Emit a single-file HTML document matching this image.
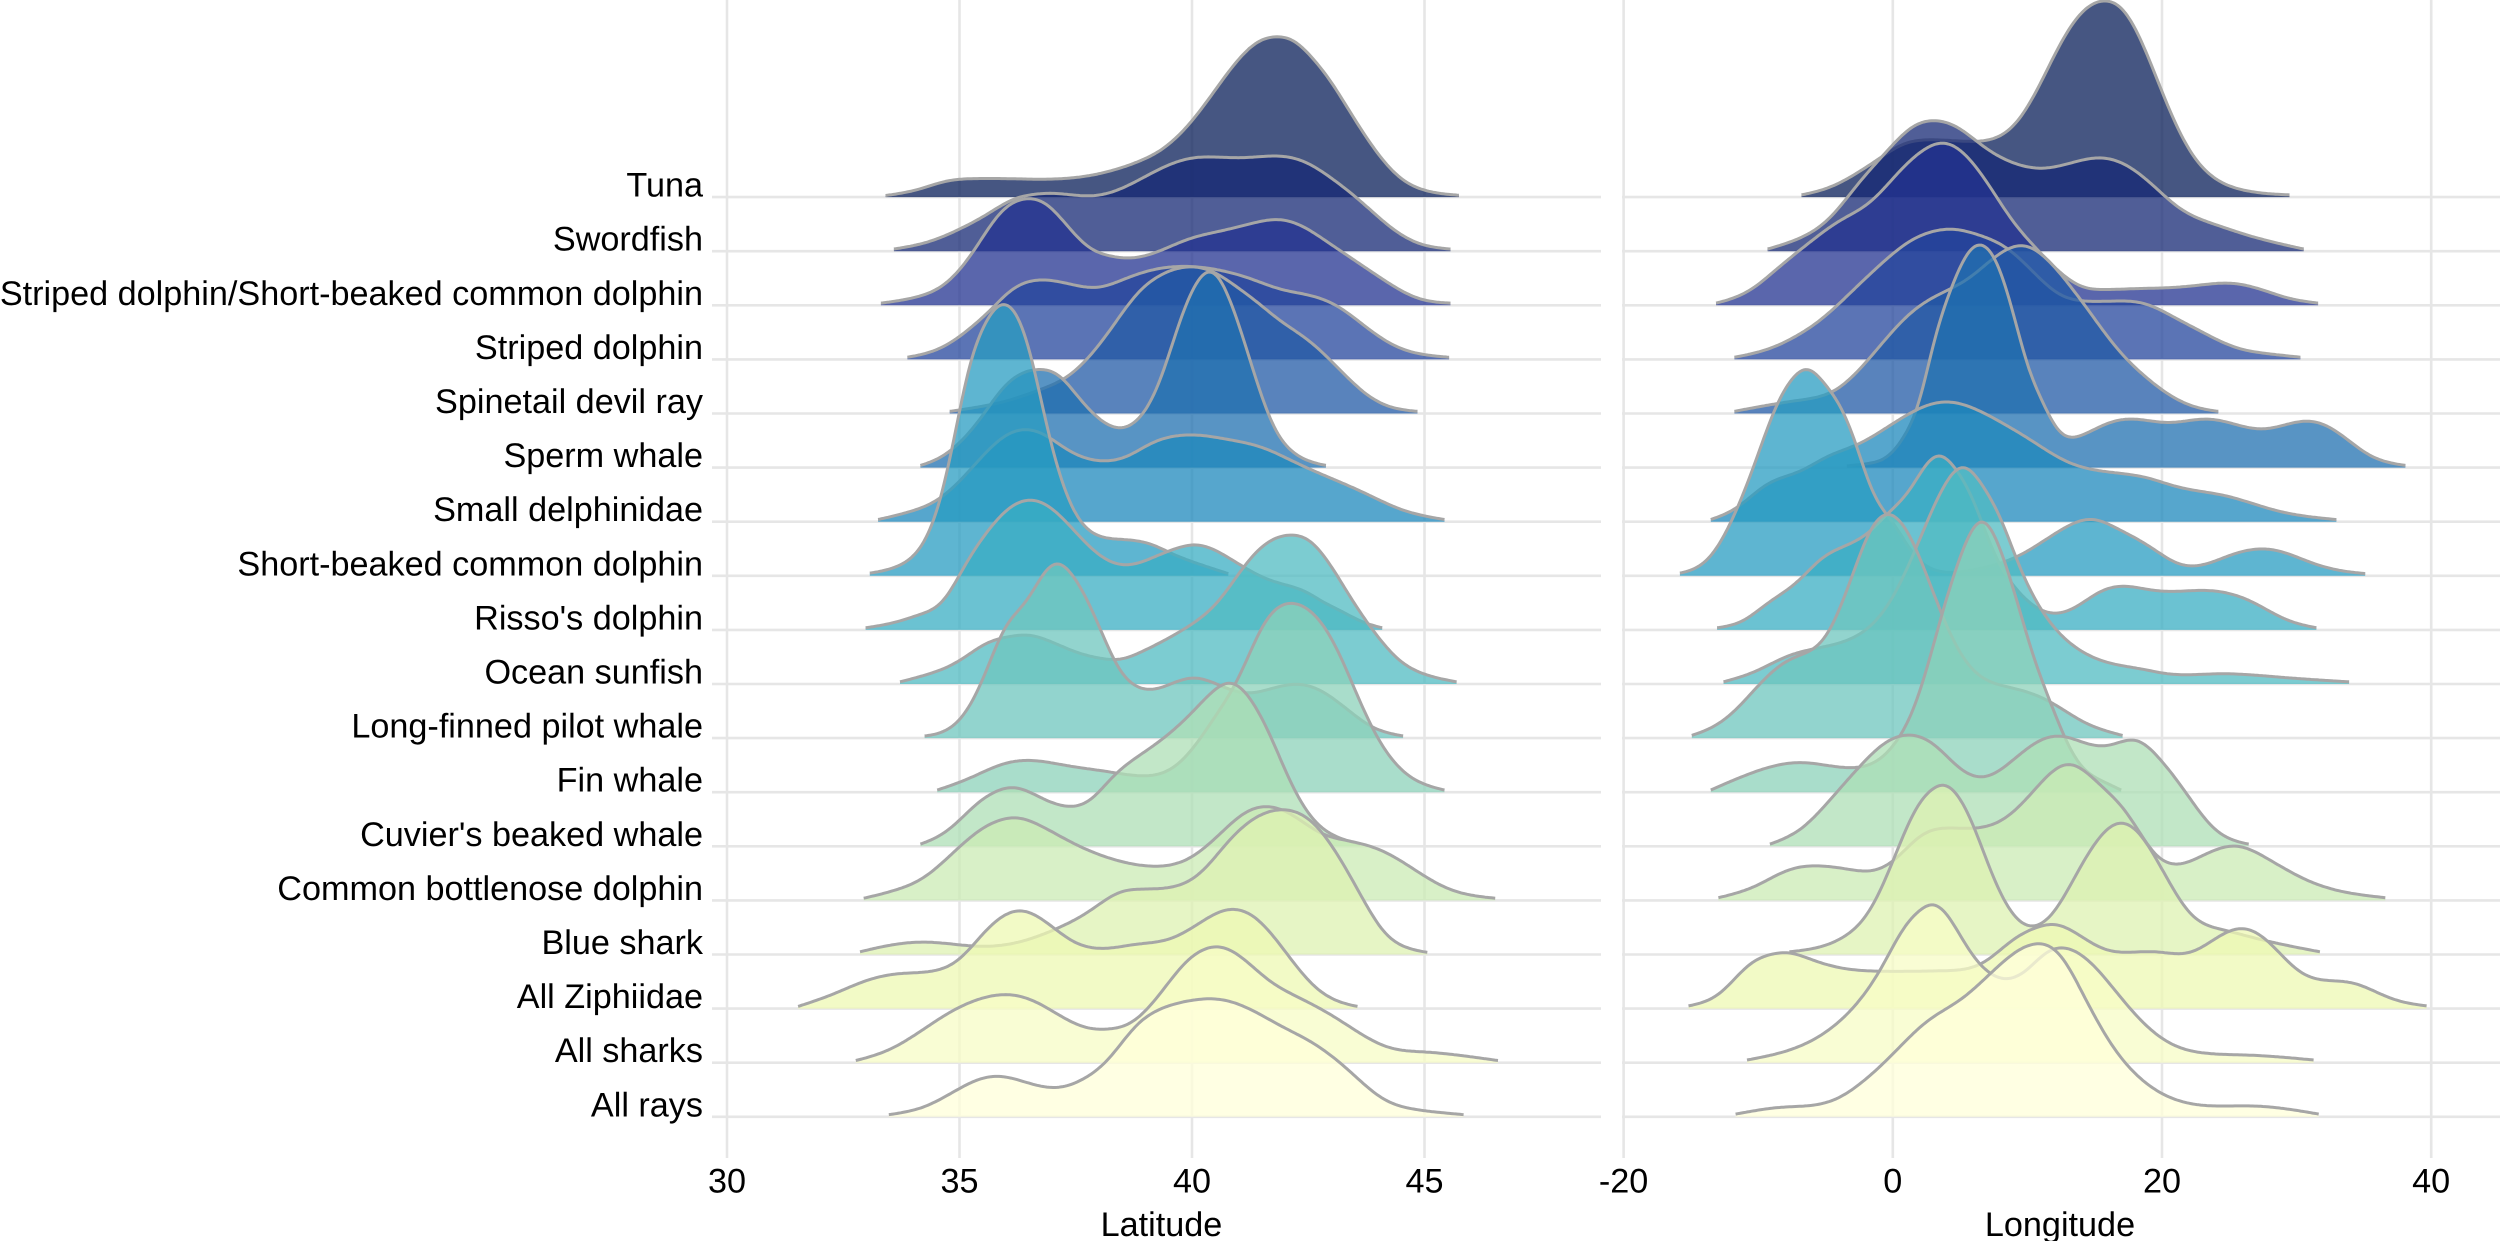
<!DOCTYPE html>
<html lang="en">
<head>
<meta charset="utf-8">
<title>Species density ridgelines by latitude and longitude</title>
<style>
html,body{margin:0;padding:0;background:#fff;width:2500px;height:1241px;overflow:hidden}
svg{display:block}
text{font-family:"Liberation Sans",Arial,sans-serif;fill:#000;text-rendering:geometricPrecision}
</style>
</head>
<body>
<svg id="chart" xmlns="http://www.w3.org/2000/svg" width="2500" height="1241" viewBox="0 0 2500 1241">
  <rect x="0" y="0" width="2500" height="1241" fill="#ffffff"/>
  <g id="grid"></g>
  <g id="latRidges"></g>
  <g id="lonRidges"></g>
  <g id="labels"></g>
  <text x="1161.5" y="1236" font-size="34.2" text-anchor="middle">Latitude</text>
  <text x="2060" y="1236" font-size="34.2" text-anchor="middle">Longitude</text>
</svg>
<script>
const species = ["Tuna","Swordfish","Striped dolphin/Short-beaked common dolphin","Striped dolphin","Spinetail devil ray","Sperm whale","Small delphinidae","Short-beaked common dolphin","Risso's dolphin","Ocean sunfish","Long-finned pilot whale","Fin whale","Cuvier's beaked whale","Common bottlenose dolphin","Blue shark","All Ziphiidae","All sharks","All rays"];
const latTicks = [30,35,40,45];
const lonTicks = [-20,0,20,40];

// Density curves: [coordinate in degrees, density height in row units]
const latTuna = [[33.41,.03],[34.11,.14],[34.73,.30],[35.22,.34],[36.09,.34],[37.20,.34],[37.94,.42],[38.80,.64],[39.42,.92],[40.04,1.45],[40.65,2.16],[41.15,2.69],[41.58,2.94],[41.85,2.97],[42.14,2.92],[42.51,2.65],[43.00,2.12],[43.49,1.45],[43.99,.81],[44.48,.35],[44.98,.13],[45.74,.035]];
const latSwordfish = [[33.59,.04],[34.36,.18],[34.98,.40],[35.59,.68],[36.15,.96],[36.58,1.05],[37.07,1.07],[37.81,1.02],[38.31,1.10],[38.93,1.35],[39.54,1.61],[40.04,1.73],[40.53,1.74],[41.15,1.73],[41.89,1.76],[42.38,1.67],[43.00,1.35],[43.62,.93],[44.23,.47],[44.85,.15],[45.56,.04]];
const latStripedShort = [[33.31,.04],[34.11,.16],[34.67,.38],[35.10,.76],[35.47,1.22],[35.84,1.68],[36.21,1.93],[36.48,1.98],[36.83,1.90],[37.32,1.47],[37.81,1.05],[38.19,.92],[38.62,.87],[39.17,.96],[39.91,1.22],[40.65,1.38],[41.27,1.51],[41.83,1.59],[42.26,1.51],[42.88,1.19],[43.62,.76],[44.23,.41],[44.85,.13],[45.56,.04]];
const latStriped = [[33.88,.04],[34.60,.21],[35.22,.57],[35.72,.96],[36.09,1.27],[36.52,1.45],[36.89,1.47],[37.44,1.38],[38.00,1.33],[38.56,1.49],[39.17,1.66],[39.91,1.72],[40.65,1.64],[41.27,1.49],[41.89,1.30],[42.51,1.19],[43.12,.99],[43.74,.60],[44.36,.25],[44.85,.11],[45.53,.04]];
const latSpinetail = [[34.79,.04],[35.47,.13],[36.09,.25],[36.70,.43],[37.32,.68],[37.81,1.07],[38.31,1.63],[38.80,2.20],[39.30,2.55],[39.85,2.71],[40.41,2.64],[40.90,2.38],[41.40,2.06],[41.89,1.72],[42.51,1.35],[43.12,.86],[43.74,.36],[44.23,.13],[44.85,.04]];
const latSperm = [[34.16,.04],[34.60,.19],[34.98,.44],[35.47,.93],[35.96,1.50],[36.40,1.77],[36.70,1.82],[37.14,1.71],[37.57,1.29],[38.06,.86],[38.47,.72],[38.86,.90],[39.30,1.57],[39.79,2.84],[40.16,3.52],[40.37,3.67],[40.59,3.52],[40.96,2.77],[41.40,1.57],[41.77,.72],[42.14,.30],[42.51,.12],[42.88,.04]];
const latSmallDelph = [[33.25,.04],[33.99,.20],[34.54,.41],[34.98,.73],[35.47,1.19],[35.96,1.58],[36.46,1.71],[36.83,1.61],[37.32,1.33],[37.81,1.15],[38.12,1.12],[38.56,1.19],[39.17,1.47],[39.67,1.59],[40.16,1.60],[40.78,1.52],[41.52,1.37],[42.26,1.08],[43.00,.80],[43.74,.52],[44.48,.23],[45.43,.04]];
const latShortBeaked = [[33.07,.05],[33.74,.20],[34.17,.52],[34.54,1.25],[34.91,2.65],[35.22,3.93],[35.53,4.64],[35.78,4.98],[35.99,5.05],[36.21,4.88],[36.52,4.14],[36.89,2.72],[37.26,1.59],[37.63,.96],[38.00,.73],[38.56,.67],[39.17,.57],[39.54,.42],[40.04,.25],[40.78,.04]];
const latRisso = [[32.98,.04],[33.62,.14],[34.17,.29],[34.67,.55],[35.10,1.17],[35.59,1.81],[36.09,2.27],[36.52,2.41],[36.95,2.27],[37.57,1.74],[38.19,1.28],[38.74,1.21],[39.30,1.39],[39.67,1.51],[40.04,1.58],[40.41,1.51],[41.02,1.21],[41.77,.89],[42.51,.68],[42.75,.55],[43.25,.33],[43.60,.17],[44.09,.04]];
const latSunfish = [[33.72,.04],[34.36,.19],[34.98,.42],[35.59,.76],[36.09,.88],[36.46,.91],[36.95,.79],[37.57,.57],[38.06,.47],[38.43,.45],[38.93,.60],[39.54,.87],[40.04,1.13],[40.59,1.55],[41.15,2.21],[41.64,2.63],[42.11,2.76],[42.51,2.67],[43.00,2.17],[43.43,1.57],[44.00,.87],[44.48,.42],[44.85,.23],[45.69,.04]];
const latPilot = [[34.25,.04],[34.85,.21],[35.22,.59],[35.59,1.27],[35.96,2.03],[36.46,2.55],[36.83,3.08],[37.10,3.26],[37.38,3.08],[37.75,2.55],[38.06,1.95],[38.43,1.27],[38.80,.95],[39.11,.89],[39.54,1.00],[40.04,1.12],[40.53,1.00],[41.15,.83],[41.77,.93],[42.26,1.00],[42.75,.89],[43.37,.51],[43.86,.21],[44.54,.04]];
const latFin = [[34.52,.04],[35.22,.26],[35.96,.53],[36.52,.59],[37.32,.49],[38.19,.38],[38.93,.30],[39.54,.42],[40.04,.83],[40.53,1.44],[40.96,2.04],[41.58,3.17],[42.20,3.50],[42.63,3.29],[43.12,2.65],[43.62,1.66],[44.11,.83],[44.73,.26],[45.43,.04]];
const latCuvier = [[34.16,.04],[34.73,.28],[35.35,.77],[35.84,1.04],[36.21,1.09],[36.70,.92],[37.38,.73],[37.81,.85],[38.31,1.30],[38.80,1.64],[39.42,2.02],[40.04,2.51],[40.53,2.93],[40.84,3.04],[41.15,2.85],[41.64,2.13],[42.14,1.15],[42.63,.47],[43.12,.17],[43.62,.04]];
const latBottlenose = [[32.94,.04],[33.62,.19],[34.23,.42],[34.85,.87],[35.47,1.32],[35.96,1.51],[36.27,1.53],[36.70,1.40],[37.44,1.06],[38.19,.79],[38.80,.66],[39.30,.63],[39.91,.76],[40.53,1.17],[41.15,1.63],[41.64,1.74],[42.14,1.59],[42.75,1.25],[43.37,1.10],[44.11,.91],[44.73,.60],[45.47,.23],[46.52,.04]];
const latBlueShark = [[32.86,.05],[33.49,.17],[34.30,.23],[34.98,.18],[35.59,.15],[36.33,.24],[37.07,.47],[37.81,.81],[38.43,1.15],[38.93,1.21],[39.54,1.24],[40.16,1.49],[40.78,2.09],[41.40,2.55],[42.01,2.68],[42.51,2.51],[43.00,2.02],[43.62,1.11],[44.11,.43],[44.60,.13],[45.06,.04]];
const latZiphiidae = [[31.53,.04],[32.26,.26],[33.00,.52],[33.74,.65],[34.48,.70],[34.98,.90],[35.47,1.35],[35.96,1.73],[36.40,1.81],[36.83,1.62],[37.44,1.24],[38.12,1.11],[38.80,1.19],[39.54,1.29],[40.16,1.58],[40.65,1.81],[40.96,1.84],[41.40,1.66],[42.01,1.05],[42.63,.41],[43.12,.14],[43.56,.04]];
const latAllSharks = [[32.77,.04],[33.49,.24],[34.23,.62],[34.85,.96],[35.47,1.19],[36.09,1.26],[36.58,1.15],[37.20,.85],[37.81,.63],[38.19,.62],[38.68,.73],[39.30,1.26],[39.91,1.90],[40.35,2.13],[40.59,2.15],[41.02,1.98],[41.64,1.53],[42.26,1.22],[43.00,.88],[43.62,.54],[44.23,.28],[44.98,.20],[45.72,.14],[46.58,.04]];
const latAllRays = [[33.48,.04],[34.23,.18],[34.85,.45],[35.47,.71],[35.90,.75],[36.46,.63],[37.14,.54],[37.69,.71],[38.19,1.05],[38.80,1.69],[39.42,2.03],[40.04,2.16],[40.53,2.18],[41.15,2.03],[41.89,1.69],[42.63,1.35],[43.37,.86],[44.11,.33],[44.85,.13],[45.84,.04]];

const lonTuna = [[-6.78,.04],[-4.69,.18],[-2.56,.46],[-.85,.74],[.85,.99],[2.56,1.06],[5.54,1.03],[7.25,1.06],[8.96,1.31],[10.66,1.95],[12.37,2.80],[14.07,3.43],[15.69,3.64],[17.27,3.43],[18.76,2.72],[20.47,1.66],[22.17,.81],[23.88,.35],[26.01,.13],[29.47,.04]];
const lonSwordfish = [[-9.30,.04],[-6.82,.25],[-4.69,.61],[-2.56,1.25],[-.43,1.85],[1.49,2.31],[3.07,2.42],[4.69,2.31],[6.82,1.92],[8.96,1.63],[11.09,1.53],[13.22,1.63],[15.35,1.73],[17.06,1.63],[19.19,1.25],[21.32,.79],[23.88,.50],[26.44,.29],[30.53,.04]];
const lonStripedShort = [[-13.13,.04],[-10.66,.27],[-8.53,.69],[-6.40,1.12],[-3.84,1.58],[-1.71,1.90],[.43,2.46],[2.13,2.85],[3.84,3.01],[5.54,2.75],[7.25,2.18],[8.96,1.54],[10.66,1.05],[12.37,.62],[14.07,.34],[15.78,.29],[18.34,.31],[20.90,.33],[23.03,.38],[25.16,.41],[27.29,.30],[29.42,.13],[31.60,.04]];
const lonStriped = [[-11.77,.04],[-9.38,.18],[-7.25,.42],[-5.12,.78],[-2.99,1.27],[-.85,1.77],[1.28,2.19],[2.99,2.37],[4.48,2.41],[6.40,2.30],[8.53,2.05],[10.66,1.56],[12.37,1.20],[14.07,1.08],[16.63,1.08],[18.76,1.03],[20.90,.78],[23.03,.50],[25.59,.21],[27.72,.11],[30.28,.04]];
const lonSpinetail = [[-11.77,.04],[-9.38,.15],[-6.82,.25],[-4.26,.43],[-2.56,.79],[-.85,1.28],[1.28,1.85],[3.41,2.20],[5.54,2.48],[7.68,2.91],[9.81,3.11],[11.09,2.94],[12.79,2.48],[14.50,1.92],[16.63,1.21],[18.76,.68],[20.90,.29],[22.60,.11],[24.18,.04]];
const lonSperm = [[-3.41,.03],[-1.94,.07],[-.21,.23],[1.28,.76],[1.90,1.13],[2.99,2.28],[4.26,3.27],[5.54,3.98],[6.61,4.15],[7.68,3.84],[8.96,2.85],[10.23,1.71],[11.06,1.25],[12.18,.70],[13.66,.56],[15.40,.76],[17.37,.90],[20.47,.83],[23.45,.90],[25.59,.79],[27.51,.71],[29.42,.81],[31.13,.86],[32.84,.69],[35.39,.23],[38.08,.04]];
const lonSmallDelph = [[-13.52,.04],[-11.51,.27],[-9.38,.69],[-6.90,.93],[-4.91,1.20],[-2.68,1.42],[-.70,1.70],[1.77,2.07],[3.99,2.22],[5.98,2.10],[7.96,1.85],[10.44,1.48],[12.92,1.11],[14.90,.96],[19.10,.80],[20.90,.66],[24.73,.48],[28.57,.20],[32.96,.04]];
const lonShortBeaked = [[-15.82,.05],[-13.65,.32],[-11.94,1.03],[-10.23,2.09],[-8.53,3.22],[-7.25,3.72],[-6.31,3.85],[-5.12,3.57],[-4.17,3.26],[-2.68,2.40],[-1.71,1.66],[-.46,1.13],[.04,.98],[1.28,.48],[3.00,.11],[4.25,.06],[5.98,.11],[7.96,.23],[9.20,.35],[10.94,.60],[12.92,.91],[14.90,1.05],[16.63,.88],[19.10,.54],[21.32,.21],[23.03,.20],[25.16,.39],[28.36,.48],[30.70,.28],[32.41,.14],[35.10,.04]];
const lonRisso = [[-13.05,.04],[-11.09,.17],[-9.38,.48],[-6.90,.93],[-5.41,1.30],[-3.67,1.54],[-1.69,1.82],[-.46,2.13],[1.28,2.59],[3.26,3.25],[4.74,2.96],[5.98,2.41],[7.20,1.60],[9.20,.74],[10.94,.37],[12.18,.30],[13.66,.43],[15.40,.71],[17.37,.81],[19.10,.74],[20.47,.71],[23.45,.73],[26.44,.55],[29.42,.17],[31.47,.04]];
const lonSunfish = [[-12.58,.04],[-10.23,.23],[-7.68,.53],[-5.65,.66],[-3.67,.78],[-1.69,1.06],[.04,1.62],[1.77,2.54],[3.76,3.65],[5.24,4.04],[6.73,3.65],[7.96,3.10],[9.20,2.30],[10.44,1.62],[11.92,1.06],[13.66,.66],[15.40,.44],[18.86,.26],[20.04,.20],[24.31,.19],[28.57,.13],[33.90,.04]];
const lonPilot = [[-14.93,.05],[-12.79,.29],[-11.09,.67],[-8.96,1.23],[-7.25,1.50],[-5.78,1.66],[-4.66,2.00],[-3.67,2.56],[-2.68,3.23],[-1.69,3.85],[-.16,4.16],[1.77,3.48],[3.50,2.37],[5.00,1.57],[6.48,1.14],[7.96,.98],[9.90,.86],[11.70,.67],[14.15,.30],[17.07,.05]];
const lonFin = [[-13.52,.04],[-10.66,.34],[-6.82,.55],[-2.99,.45],[-1.49,.53],[.54,1.03],[1.53,1.52],[2.52,2.27],[3.75,3.38],[5.24,4.52],[6.65,5.06],[7.96,4.52],[9.20,3.56],[10.44,2.51],[11.68,1.68],[12.67,1.06],[14.07,.45],[15.35,.23],[16.97,.04]];
const lonCuvier = [[-9.13,.04],[-6.82,.32],[-4.69,.85],[-2.56,1.45],[-.43,1.94],[1.49,2.06],[2.99,1.90],[5.12,1.41],[6.91,1.28],[8.96,1.60],[11.09,1.98],[12.58,2.04],[14.50,1.89],[16.20,1.87],[18.12,1.97],[19.62,1.68],[21.75,1.00],[23.88,.32],[26.44,.04]];
const lonBottlenose = [[-12.96,.05],[-10.23,.26],[-7.68,.57],[-5.54,.64],[-3.41,.58],[-1.71,.54],[0,.72],[2.13,1.21],[4.26,1.34],[6.40,1.34],[8.53,1.55],[10.66,2.08],[13.01,2.53],[15.35,2.15],[17.48,1.59],[19.40,.87],[20.90,.66],[23.03,.83],[25.59,1.01],[27.72,.79],[30.70,.38],[33.26,.17],[36.59,.05]];
const lonBlueShark = [[-7.68,.05],[-5.54,.13],[-3.41,.36],[-1.71,.81],[0,1.72],[1.71,2.70],[2.99,3.08],[3.75,3.16],[4.69,3.00],[5.97,2.40],[7.25,1.56],[8.53,.88],[9.59,.57],[10.53,.51],[11.94,.77],[13.65,1.49],[15.35,2.17],[16.97,2.45],[18.34,2.24],[20.04,1.56],[22.17,.73],[24.31,.47],[27.29,.28],[31.73,.05]];
const lonZiphiidae = [[-15.18,.05],[-12.79,.29],[-10.66,.82],[-8.96,1.01],[-7.89,1.04],[-5.97,.90],[-3.84,.75],[-.85,.69],[3.84,.70],[6.82,.86],[8.96,1.28],[10.66,1.50],[12.15,1.56],[13.65,1.39],[15.78,1.09],[17.48,1.04],[19.62,1.05],[22.17,1.04],[23.88,1.28],[26.01,1.49],[27.72,1.28],[30.28,.67],[34.12,.48],[37.10,.18],[39.66,.05]];
const lonAllSharks = [[-10.83,.05],[-8.10,.20],[-5.12,.54],[-2.99,1.00],[-.85,1.75],[.85,2.51],[2.13,2.85],[2.99,2.95],[3.84,2.81],[5.54,2.13],[7.25,1.64],[8.53,1.54],[9.81,1.68],[11.51,2.06],[12.79,2.13],[14.50,1.90],[16.63,1.30],[18.76,.70],[20.90,.32],[23.45,.17],[26.44,.14],[31.26,.05]];
const lonAllRays = [[-11.68,.05],[-8.10,.18],[-4.26,.32],[-2.13,.67],[0,1.16],[2.56,1.77],[5.12,2.18],[7.68,2.75],[9.38,3.09],[10.75,3.21],[12.37,3.02],[14.07,2.30],[16.20,1.35],[18.76,.63],[21.32,.29],[23.88,.20],[26.87,.20],[31.64,.05]];

const latSeries = [latTuna,latSwordfish,latStripedShort,latStriped,latSpinetail,latSperm,latSmallDelph,latShortBeaked,latRisso,latSunfish,latPilot,latFin,latCuvier,latBottlenose,latBlueShark,latZiphiidae,latAllSharks,latAllRays];
const lonSeries = [lonTuna,lonSwordfish,lonStripedShort,lonStriped,lonSpinetail,lonSperm,lonSmallDelph,lonShortBeaked,lonRisso,lonSunfish,lonPilot,lonFin,lonCuvier,lonBottlenose,lonBlueShark,lonZiphiidae,lonAllSharks,lonAllRays];
const paletteStops = ["#ffffd9","#edf8b1","#c7e9b4","#7fcdbb","#41b6c4","#1d91c0","#225ea8","#253494","#081d58"];

const SVGNS = "http://www.w3.org/2000/svg";
const xLat = v => 727 + (v - 30) * 46.5;
const xLon = v => 1892.8 + v * 13.46;
const rowBase = i => 197.1 + i * 54.1;
const yRow = (i, h) => rowBase(i) - h * 54.1;
const slug = s => s.toLowerCase().replace(/[^a-z0-9]+/g, '-');

function rowColor(i) {
  const t = (species.length - 1 - i) / (species.length - 1) * (paletteStops.length - 1);
  const k = Math.min(Math.floor(t), paletteStops.length - 2);
  const f = t - k;
  const hex = s => [1, 3, 5].map(p => parseInt(s.substr(p, 2), 16));
  const a = hex(paletteStops[k]), b = hex(paletteStops[k + 1]);
  return 'rgb(' + a.map((c, n) => Math.round(c + (b[n] - c) * f)).join(',') + ')';
}

// Natural cubic spline through the points, resampled and lightly Gaussian-smoothed
// so the curve reads like a kernel density estimate.
function smoothCurve(pts) {
  const n = pts.length;
  const h = [];
  for (let i = 0; i < n - 1; i++) h.push(pts[i + 1][0] - pts[i][0]);
  const c = new Array(n).fill(0), e = new Array(n).fill(0), M = new Array(n).fill(0);
  for (let i = 1; i < n - 1; i++) {
    const diag = 2 * (h[i - 1] + h[i]) - h[i - 1] * c[i - 1];
    const rhs = 6 * ((pts[i + 1][1] - pts[i][1]) / h[i] - (pts[i][1] - pts[i - 1][1]) / h[i - 1]);
    c[i] = h[i] / diag;
    e[i] = (rhs - h[i - 1] * e[i - 1]) / diag;
  }
  for (let i = n - 2; i > 0; i--) M[i] = e[i] - c[i] * M[i + 1];
  const step = 2, sigma = 6;
  const x0 = pts[0][0], x1 = pts[n - 1][0];
  const count = Math.max(2, Math.round((x1 - x0) / step));
  const xs = [], ys = [];
  let seg = 0;
  for (let j = 0; j <= count; j++) {
    const x = x0 + (x1 - x0) * j / count;
    while (seg < n - 2 && x > pts[seg + 1][0]) seg++;
    const a = pts[seg + 1][0] - x, b = x - pts[seg][0], w = h[seg];
    xs.push(x);
    ys.push(M[seg] * a * a * a / (6 * w) + M[seg + 1] * b * b * b / (6 * w) +
      (pts[seg][1] / w - M[seg] * w / 6) * a + (pts[seg + 1][1] / w - M[seg + 1] * w / 6) * b);
  }
  const out = [];
  for (let j = 0; j <= count; j++) {
    const reach = Math.min(j, count - j, Math.round(3 * sigma / ((x1 - x0) / count)));
    let sum = 0, weight = 0;
    for (let k = -reach; k <= reach; k++) {
      const d = k * (x1 - x0) / count;
      const g = Math.exp(-d * d / (2 * sigma * sigma));
      sum += g * ys[j + k];
      weight += g;
    }
    out.push([xs[j], sum / weight]);
  }
  return out;
}

const grid = document.getElementById('grid');
const labels = document.getElementById('labels');

function addGridLine(x1, y1, x2, y2, name) {
  const line = document.createElementNS(SVGNS, 'line');
  line.setAttribute('x1', x1);
  line.setAttribute('y1', y1);
  line.setAttribute('x2', x2);
  line.setAttribute('y2', y2);
  line.setAttribute('stroke', '#e6e6e6');
  line.setAttribute('stroke-width', '2.6');
  
  
  grid.appendChild(line);
}

function addText(x, y, str, anchor, name) {
  const t = document.createElementNS(SVGNS, 'text');
  t.setAttribute('x', x);
  t.setAttribute('y', y);
  t.setAttribute('font-size', '34.2');
  t.setAttribute('text-anchor', anchor);
  
  
  t.textContent = str;
  labels.appendChild(t);
}

latTicks.forEach(v => {
  addGridLine(xLat(v), 0, xLat(v), 1158, 'latitude-gridline-' + v);
  addText(xLat(v), 1192.5, String(v), 'middle', 'latitude-tick-label-' + v);
});
lonTicks.forEach(v => {
  addGridLine(xLon(v), 0, xLon(v), 1158, 'longitude-gridline-' + v);
  addText(xLon(v), 1192.5, String(v), 'middle', 'longitude-tick-label-' + v);
});
species.forEach((name, i) => {
  addGridLine(712, rowBase(i), 1601, rowBase(i), 'latitude-row-line-' + slug(name));
  addGridLine(1622, rowBase(i), 2500, rowBase(i), 'longitude-row-line-' + slug(name));
  addText(703, rowBase(i) - 0.5, name, 'end', 'y-axis-label-' + slug(name));
});

function drawRidges(container, series, xScale, prefix) {
  series.forEach((values, i) => {
    const pts = smoothCurve(values.map(p => [xScale(p[0]), yRow(i, p[1])]));
    const coords = pts.map(p => p[0].toFixed(1) + ' ' + p[1].toFixed(1)).join('L');
    const base = rowBase(i).toFixed(1);
    const first = pts[0][0].toFixed(1), last = pts[pts.length - 1][0].toFixed(1);
    const area = document.createElementNS(SVGNS, 'path');
    area.setAttribute('d', 'M' + first + ' ' + base + 'L' + coords + 'L' + last + ' ' + base + 'Z');
    area.setAttribute('fill', rowColor(i));
    area.setAttribute('fill-opacity', '0.75');
    
    
    container.appendChild(area);
    const line = document.createElementNS(SVGNS, 'path');
    line.setAttribute('d', 'M' + coords);
    line.setAttribute('fill', 'none');
    line.setAttribute('stroke', '#a6a6a6');
    line.setAttribute('stroke-width', '3');
    line.setAttribute('stroke-linejoin', 'round');
    
    
    container.appendChild(line);
  });
}
drawRidges(document.getElementById('latRidges'), latSeries, xLat, 'latitude');
drawRidges(document.getElementById('lonRidges'), lonSeries, xLon, 'longitude');
</script>
</body>
</html>
